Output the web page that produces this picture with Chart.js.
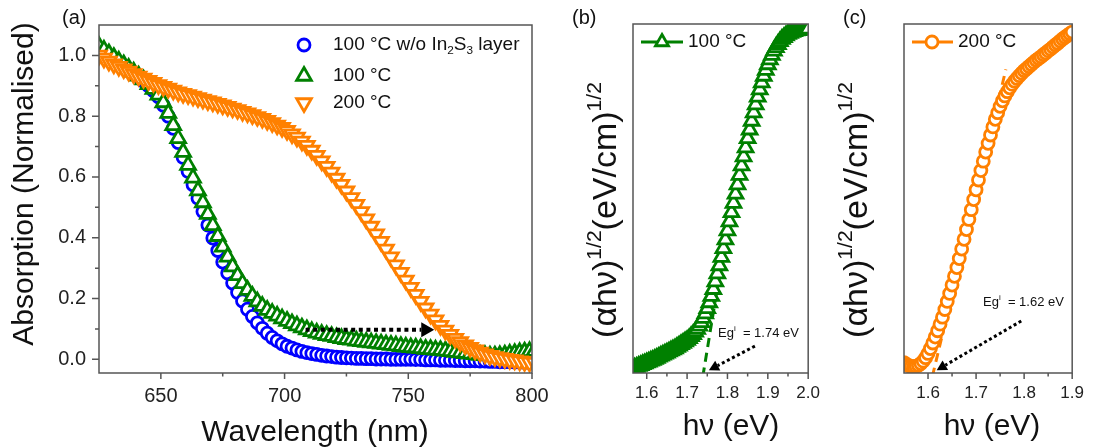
<!DOCTYPE html>
<html>
<head>
<meta charset="utf-8">
<script src="https://cdn.jsdelivr.net/npm/chart.js@4.4.1/dist/chart.umd.min.js"></script>
<style>
  html, body { margin: 0; padding: 0; background: #fff; }
  body { width: 1094px; height: 447px; position: relative; overflow: hidden; }
  canvas { position: absolute; top: 0; }
</style>
</head>
<body>
<canvas id="chartA" width="560" height="447" style="left:0px"></canvas>
<canvas id="chartB" width="270" height="447" style="left:560px"></canvas>
<canvas id="chartC" width="264" height="447" style="left:830px"></canvas>
<script>
const FONT = "'Liberation Sans', Arial, sans-serif";
const BLUE = '#0000ff', GREEN = '#008000', ORANGE = '#ff8000';

// === (a) absorption spectra ===
const wavelength = [
  625, 627, 629, 631, 633, 635, 637, 639, 641, 643,
  645, 647, 649, 651, 653, 655, 657, 659, 661, 663,
  665, 667, 669, 671, 673, 675, 677, 679, 681, 683,
  685, 687, 689, 691, 693, 695, 697, 699, 701, 703,
  705, 707, 709, 711, 713, 715, 717, 719, 721, 723,
  725, 727, 729, 731, 733, 735, 737, 739, 741, 743,
  745, 747, 749, 751, 753, 755, 757, 759, 761, 763,
  765, 767, 769, 771, 773, 775, 777, 779, 781, 783,
  785, 787, 789, 791, 793, 795, 797, 799, 801
];
const absNoLayer = [
  1.020, 1.008, 0.996, 0.985, 0.975, 0.965, 0.953, 0.941, 0.928, 0.915,
  0.900, 0.884, 0.864, 0.836, 0.800, 0.760, 0.713, 0.664, 0.618, 0.574,
  0.530, 0.486, 0.442, 0.399, 0.358, 0.320, 0.284, 0.251, 0.220, 0.192,
  0.165, 0.141, 0.120, 0.102, 0.086, 0.072, 0.061, 0.051, 0.043, 0.037,
  0.031, 0.026, 0.022, 0.019, 0.016, 0.013, 0.011, 0.009, 0.007, 0.006,
  0.005, 0.004, 0.003, 0.003, 0.002, 0.002, 0.001, 0.001, 0.001, 0.000,
  0.000, 0.000, 0.000, 0.000, -0.001, -0.001, -0.002, -0.002, -0.002, -0.003,
  -0.003, -0.003, -0.004, -0.004, -0.005, -0.005, -0.005, -0.006, -0.006, -0.007,
  -0.007, -0.008, -0.008, -0.008, -0.009, -0.009, -0.010, -0.010, -0.010
];
const abs100 = [
  1.030, 1.018, 1.006, 0.994, 0.982, 0.970, 0.958, 0.946, 0.933, 0.920,
  0.905, 0.889, 0.870, 0.845, 0.810, 0.770, 0.727, 0.682, 0.639, 0.597,
  0.555, 0.516, 0.478, 0.441, 0.405, 0.370, 0.337, 0.305, 0.276, 0.250,
  0.228, 0.208, 0.190, 0.175, 0.162, 0.152, 0.143, 0.134, 0.126, 0.118,
  0.111, 0.104, 0.098, 0.092, 0.087, 0.083, 0.079, 0.076, 0.072, 0.069,
  0.066, 0.064, 0.061, 0.059, 0.057, 0.055, 0.053, 0.051, 0.049, 0.047,
  0.045, 0.043, 0.041, 0.039, 0.038, 0.036, 0.034, 0.033, 0.031, 0.030,
  0.028, 0.026, 0.024, 0.022, 0.020, 0.018, 0.016, 0.014, 0.013, 0.012,
  0.012, 0.013, 0.015, 0.018, 0.020, 0.023, 0.025, 0.026, 0.027
];
const abs200 = [
  1.000, 0.990, 0.980, 0.971, 0.963, 0.955, 0.947, 0.939, 0.931, 0.924,
  0.917, 0.910, 0.903, 0.897, 0.891, 0.885, 0.879, 0.874, 0.870, 0.865,
  0.860, 0.855, 0.850, 0.846, 0.841, 0.836, 0.831, 0.826, 0.821, 0.815,
  0.810, 0.804, 0.798, 0.792, 0.785, 0.778, 0.770, 0.762, 0.752, 0.741,
  0.730, 0.717, 0.703, 0.687, 0.670, 0.652, 0.634, 0.615, 0.595, 0.575,
  0.553, 0.531, 0.509, 0.485, 0.461, 0.437, 0.412, 0.387, 0.362, 0.336,
  0.310, 0.285, 0.260, 0.236, 0.213, 0.190, 0.168, 0.148, 0.129, 0.111,
  0.095, 0.081, 0.068, 0.057, 0.047, 0.038, 0.030, 0.023, 0.017, 0.012,
  0.008, 0.005, 0.002, -0.001, -0.003, -0.006, -0.008, -0.010, -0.011
];
const ticksAx = [650, 700, 750, 800];
const labelsAx = ['650', '700', '750', '800'];
const minorAx = [675, 725, 775];
const ticksAy = [0, 0.2, 0.4, 0.6, 0.8, 1.0];
const labelsAy = ['0.0', '0.2', '0.4', '0.6', '0.8', '1.0'];
const minorAy = [0.1, 0.3, 0.5, 0.7, 0.9];

// === (b) Tauc plot, 100 °C ===
const energyB = [
  1.570, 1.575, 1.580, 1.585, 1.590, 1.595, 1.600, 1.605, 1.610, 1.615,
  1.620, 1.625, 1.630, 1.635, 1.640, 1.645, 1.650, 1.655, 1.660, 1.665,
  1.670, 1.675, 1.680, 1.685, 1.690, 1.695, 1.700, 1.705, 1.710, 1.715,
  1.720, 1.725, 1.730, 1.735, 1.740, 1.745, 1.750, 1.755, 1.760, 1.765,
  1.770, 1.775, 1.780, 1.785, 1.790, 1.795, 1.800, 1.805, 1.810, 1.815,
  1.820, 1.825, 1.830, 1.835, 1.840, 1.845, 1.850, 1.855, 1.860, 1.865,
  1.870, 1.875, 1.880, 1.885, 1.890, 1.895, 1.900, 1.905, 1.910, 1.915,
  1.920, 1.925, 1.930, 1.935, 1.940, 1.945, 1.950, 1.955, 1.960, 1.965,
  1.970, 1.975, 1.980, 1.985, 1.990, 1.995, 2.000
];
const taucB = [
  0.015, 0.017, 0.020, 0.022, 0.025, 0.027, 0.030, 0.032, 0.035, 0.037,
  0.040, 0.043, 0.046, 0.049, 0.052, 0.055, 0.058, 0.061, 0.064, 0.067,
  0.070, 0.074, 0.078, 0.082, 0.086, 0.090, 0.094, 0.099, 0.105, 0.111,
  0.118, 0.126, 0.135, 0.145, 0.157, 0.170, 0.185, 0.202, 0.220, 0.240,
  0.262, 0.285, 0.308, 0.332, 0.357, 0.382, 0.408, 0.434, 0.460, 0.487,
  0.513, 0.540, 0.567, 0.594, 0.620, 0.646, 0.672, 0.697, 0.722, 0.746,
  0.769, 0.791, 0.812, 0.832, 0.851, 0.868, 0.884, 0.898, 0.911, 0.923,
  0.933, 0.942, 0.950, 0.957, 0.962, 0.967, 0.971, 0.974, 0.977, 0.979,
  0.981, 0.982, 0.983, 0.984, 0.985, 0.986, 0.986
];
const fitBx = [1.739, 1.790];
const fitBy = [-0.01, 0.35];
const ticksBx = [1.6, 1.7, 1.8, 1.9, 2.0];
const labelsBx = ['1.6', '1.7', '1.8', '1.9', '2.0'];
const minorBx = [1.65, 1.75, 1.85, 1.95];

// === (c) Tauc plot, 200 °C ===
const energyC = [
  1.550, 1.555, 1.560, 1.565, 1.570, 1.575, 1.580, 1.585, 1.590, 1.595,
  1.600, 1.605, 1.610, 1.615, 1.620, 1.625, 1.630, 1.635, 1.640, 1.645,
  1.650, 1.655, 1.660, 1.665, 1.670, 1.675, 1.680, 1.685, 1.690, 1.695,
  1.700, 1.705, 1.710, 1.715, 1.720, 1.725, 1.730, 1.735, 1.740, 1.745,
  1.750, 1.755, 1.760, 1.765, 1.770, 1.775, 1.780, 1.785, 1.790, 1.795,
  1.800, 1.805, 1.810, 1.815, 1.820, 1.825, 1.830, 1.835, 1.840, 1.845,
  1.850, 1.855, 1.860, 1.865, 1.870, 1.875, 1.880, 1.885, 1.890, 1.895,
  1.900
];
const taucC = [
  0.030, 0.025, 0.021, 0.019, 0.018, 0.019, 0.022, 0.027, 0.034, 0.044,
  0.056, 0.070, 0.086, 0.103, 0.121, 0.140, 0.160, 0.182, 0.205, 0.228,
  0.252, 0.277, 0.302, 0.328, 0.355, 0.383, 0.411, 0.440, 0.468, 0.497,
  0.525, 0.553, 0.580, 0.607, 0.633, 0.658, 0.682, 0.705, 0.727, 0.746,
  0.764, 0.780, 0.794, 0.806, 0.817, 0.827, 0.836, 0.844, 0.852, 0.859,
  0.866, 0.872, 0.878, 0.884, 0.890, 0.896, 0.901, 0.906, 0.912, 0.917,
  0.923, 0.928, 0.934, 0.940, 0.945, 0.951, 0.957, 0.962, 0.967, 0.972,
  0.977
];
const fitCx = [1.609, 1.762];
const fitCy = [-0.01, 0.87];
const ticksCx = [1.6, 1.7, 1.8, 1.9];
const labelsCx = ['1.6', '1.7', '1.8', '1.9'];
const minorCx = [1.65, 1.75, 1.85];

// --- helpers ---
const pts = (xs, ys) => xs.map((x, i) => ({ x, y: ys[i] }));

function parseRich(str) {
  const parts = [], re = /([_^])\{([^}]*)\}/g;
  let last = 0, m;
  while ((m = re.exec(str))) {
    if (m.index > last) parts.push({ t: str.slice(last, m.index) });
    parts.push({ t: m[2], s: m[1] === '_' ? 'sub' : 'sup' });
    last = re.lastIndex;
  }
  if (last < str.length) parts.push({ t: str.slice(last) });
  return parts;
}

function drawRich(ctx, str, x, y, size, align) {
  const parts = parseRich(str), small = size * 0.62;
  let w = 0;
  parts.forEach(p => {
    ctx.font = (p.s ? small : size) + 'px ' + FONT;
    p.w = ctx.measureText(p.t).width; w += p.w;
  });
  let cx = align === 'center' ? x - w / 2 : x;
  ctx.textAlign = 'left';
  ctx.textBaseline = 'middle';
  parts.forEach(p => {
    ctx.font = (p.s ? small : size) + 'px ' + FONT;
    const dy = p.s === 'sub' ? size * 0.3 : p.s === 'sup' ? -size * 0.36 : 0;
    ctx.fillText(p.t, cx, y + dy);
    cx += p.w;
  });
}

function marker(ctx, style, x, y, r, color) {
  ctx.save();
  ctx.setLineDash([]);
  ctx.strokeStyle = color; ctx.fillStyle = '#fff'; ctx.lineWidth = 2.8;
  ctx.beginPath();
  if (style === 'circle') ctx.arc(x, y, r, 0, Math.PI * 2);
  else {
    const s = style === 'down' ? -1 : 1;
    ctx.moveTo(x, y - s * r);
    ctx.lineTo(x + r * 0.866, y + s * r / 2);
    ctx.lineTo(x - r * 0.866, y + s * r / 2);
    ctx.closePath();
  }
  ctx.fill(); ctx.stroke();
  ctx.restore();
}

function arrow(ctx, x1, y1, x2, y2, lw, hl, hw) {
  const ang = Math.atan2(y2 - y1, x2 - x1);
  const bx = x2 - Math.cos(ang) * hl, by = y2 - Math.sin(ang) * hl;
  ctx.save();
  ctx.strokeStyle = '#000'; ctx.fillStyle = '#000';
  ctx.lineWidth = lw; ctx.setLineDash([lw, lw * 0.9]);
  ctx.beginPath(); ctx.moveTo(x1, y1); ctx.lineTo(bx, by); ctx.stroke();
  ctx.setLineDash([]);
  ctx.beginPath();
  ctx.moveTo(x2, y2);
  ctx.lineTo(bx - Math.sin(ang) * hw, by + Math.cos(ang) * hw);
  ctx.lineTo(bx + Math.sin(ang) * hw, by - Math.cos(ang) * hw);
  ctx.closePath(); ctx.fill();
  ctx.restore();
}

// frame, minor ticks, legend, arrows and rich-text labels
const decor = {
  id: 'decor',
  afterDraw(chart, args, o) {
    const ctx = chart.ctx, a = chart.chartArea, xs = chart.scales.x, ys = chart.scales.y;
    ctx.save();
    ctx.strokeStyle = '#555'; ctx.lineWidth = 1.5; ctx.setLineDash([]);
    ctx.beginPath();
    const xt = (vals, len) => vals.forEach(v => {
      const px = xs.getPixelForValue(v); ctx.moveTo(px, a.bottom); ctx.lineTo(px, a.bottom + len);
    });
    const yt = (vals, len) => vals.forEach(v => {
      const py = ys.getPixelForValue(v); ctx.moveTo(a.left, py); ctx.lineTo(a.left - len, py);
    });
    xt(o.xMajor || [], 6); xt(o.xMinor || [], 3.5);
    yt(o.yMajor || [], 7); yt(o.yMinor || [], 4);
    ctx.stroke();
    ctx.strokeRect(a.left, a.top, a.right - a.left, a.bottom - a.top);

    (o.arrows || []).forEach(ar => arrow(ctx,
      xs.getPixelForValue(ar.from[0]), ys.getPixelForValue(ar.from[1]),
      xs.getPixelForValue(ar.to[0]), ys.getPixelForValue(ar.to[1]), ar.lw, ar.hl, ar.hw));

    (o.legend || []).forEach(l => {
      if (l.line) {
        ctx.save(); ctx.strokeStyle = l.color; ctx.lineWidth = 2.8;
        ctx.beginPath(); ctx.moveTo(l.line[0], l.y); ctx.lineTo(l.line[1], l.y); ctx.stroke();
        ctx.restore();
      }
      marker(ctx, l.style, l.x, l.y, l.r, l.color);
      ctx.fillStyle = '#111';
      drawRich(ctx, l.text, l.tx, l.y, l.size, 'left');
    });

    ctx.fillStyle = '#111';
    (o.texts || []).forEach(t => {
      ctx.save();
      ctx.translate(t.x, t.y);
      if (t.rot) ctx.rotate(-Math.PI / 2);
      drawRich(ctx, t.text, 0, 0, t.size, t.align || 'center');
      ctx.restore();
    });
    ctx.restore();
  }
};

function xScale(min, max, ticks, labels, size, pad) {
  return {
    type: 'linear', min, max,
    afterFit: s => { s.height = 74; },
    afterBuildTicks: s => { s.ticks = ticks.map(v => ({ value: v })); },
    grid: { display: false, drawTicks: false },
    border: { display: false },
    ticks: {
      autoSkip: false, maxRotation: 0, padding: pad, color: '#222',
      font: { family: FONT, size }, callback: (v, i) => labels[i]
    }
  };
}

function scatterSet(xs, ys, style, r, color, order) {
  return {
    data: pts(xs, ys), showLine: false, clip: 0, order,
    pointStyle: style === 'circle' ? 'circle' : 'triangle',
    pointRotation: style === 'down' ? 180 : 0,
    pointRadius: r, pointBorderWidth: 2.8,
    pointBorderColor: color, pointBackgroundColor: '#fff'
  };
}

function fitSet(xs, ys, color) {
  return {
    data: pts(xs, ys), showLine: true, clip: 0, order: 2,
    borderColor: color, borderWidth: 3, borderDash: [9, 6], pointRadius: 0
  };
}

const common = { responsive: false, animation: false, events: [] };

// === Gráfico (a) ===
new Chart(document.getElementById('chartA'), {
  type: 'scatter',
  data: {
    datasets: [
      scatterSet(wavelength, abs200, 'down', 8.5, ORANGE, 1),
      scatterSet(wavelength, abs100, 'up', 8.5, GREEN, 2),
      scatterSet(wavelength, absNoLayer, 'circle', 6, BLUE, 3)
    ]
  },
  options: {
    ...common,
    layout: { padding: { top: 24, right: 28, left: 0, bottom: 0 } },
    plugins: {
      legend: { display: false }, tooltip: { enabled: false },
      decor: {
        xMajor: ticksAx, xMinor: minorAx, yMajor: ticksAy, yMinor: minorAy,
        arrows: [{ from: [708.5, 0.097], to: [760.5, 0.097], lw: 4, hl: 13, hw: 7.5 }],
        legend: [
          { style: 'circle', x: 304, y: 45, r: 6, color: BLUE, tx: 333, size: 19, text: '100 °C w/o In_{2}S_{3} layer' },
          { style: 'up', x: 304, y: 76, r: 8.5, color: GREEN, tx: 333, size: 19, text: '100 °C' },
          { style: 'down', x: 304, y: 103, r: 8.5, color: ORANGE, tx: 333, size: 19, text: '200 °C' }
        ],
        texts: [
          { text: '(a)', x: 62, y: 18, size: 20, align: 'left' },
          { text: 'Absorption (Normalised)', x: 25, y: 184, size: 30, rot: true },
          { text: 'Wavelength (nm)', x: 315, y: 433, size: 30 }
        ]
      }
    },
    scales: {
      x: xScale(625, 800, ticksAx, labelsAx, 20, 11),
      y: {
        type: 'linear', min: -0.045, max: 1.1,
        afterFit: s => { s.width = 99; },
        afterBuildTicks: s => { s.ticks = ticksAy.map(v => ({ value: v })); },
        grid: { display: false, drawTicks: false },
        border: { display: false },
        ticks: { padding: 13, color: '#222', font: { family: FONT, size: 20 }, callback: (v, i) => labelsAy[i] }
      }
    }
  },
  plugins: [decor]
});

function taucChart(id, xs, ys, fx, fy, color, style, r, xmin, xmax, ticks, labels, minor, yWidth, rightPad, extra) {
  new Chart(document.getElementById(id), {
    type: 'scatter',
    data: {
      datasets: [
        scatterSet(xs, ys, style, r, color, 1),
        fitSet(fx, fy, color)
      ]
    },
    options: {
      ...common,
      layout: { padding: { top: 24, right: rightPad, left: 0, bottom: 0 } },
      plugins: {
        legend: { display: false }, tooltip: { enabled: false },
        decor: Object.assign({ xMajor: ticks, xMinor: minor }, extra)
      },
      scales: {
        x: xScale(xmin, xmax, ticks, labels, 17, 10),
        y: {
          type: 'linear', min: 0, max: 1,
          afterFit: s => { s.width = yWidth; },
          grid: { display: false, drawTicks: false },
          border: { display: false },
          ticks: { display: false }
        }
      }
    },
    plugins: [decor]
  });
}

// === Gráfico (b) ===
taucChart('chartB', energyB, taucB, fitBx, fitBy, GREEN, 'up', 8.5,
  1.566, 2.0, ticksBx, labelsBx, minorBx, 73, 20, {
    arrows: [{ from: [1.868, 0.077], to: [1.754, 0.008], lw: 3, hl: 10, hw: 5.5 }],
    legend: [{ style: 'up', x: 102, y: 42, r: 7.5, color: GREEN, line: [81, 123], tx: 128, size: 19, text: '100 °C' }],
    texts: [
      { text: '(b)', x: 12, y: 18, size: 20, align: 'left' },
      { text: '(αhν)^{1/2}(eV/cm)^{1/2}', x: 47, y: 210, size: 34, rot: true },
      { text: 'hν (eV)', x: 171, y: 427, size: 30 },
      { text: 'Eg^{i}  = 1.74 eV', x: 158, y: 333, size: 13, align: 'left' }
    ]
  });

// === Gráfico (c) ===
taucChart('chartC', energyC, taucC, fitCx, fitCy, ORANGE, 'circle', 6,
  1.55, 1.9, ticksCx, labelsCx, minorCx, 74, 14, {
    arrows: [{ from: [1.794, 0.149], to: [1.618, 0.008], lw: 3, hl: 10, hw: 5.5 }],
    legend: [{ style: 'circle', x: 102, y: 42, r: 6, color: ORANGE, line: [82, 123], tx: 128, size: 19, text: '200 °C' }],
    texts: [
      { text: '(c)', x: 13, y: 18, size: 20, align: 'left' },
      { text: '(αhν)^{1/2}(eV/cm)^{1/2}', x: 28, y: 210, size: 34, rot: true },
      { text: 'hν (eV)', x: 162, y: 427, size: 30 },
      { text: 'Eg^{i}  = 1.62 eV', x: 153, y: 302, size: 13, align: 'left' }
    ]
  });
</script>
</body>
</html>
